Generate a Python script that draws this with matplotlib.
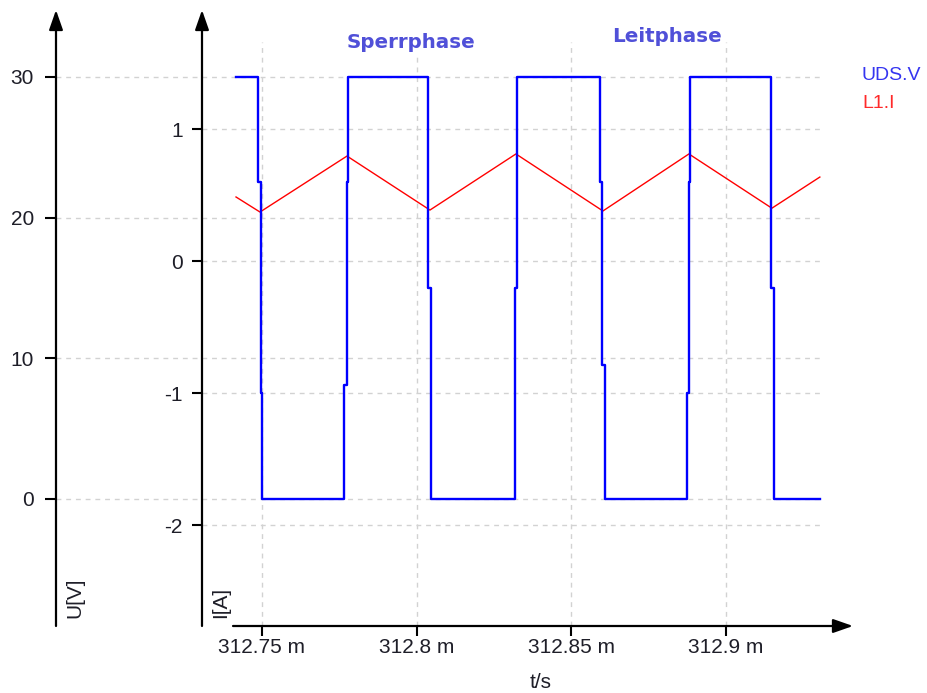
import matplotlib
matplotlib.use("Agg")
import matplotlib.pyplot as plt
from matplotlib.ticker import FixedLocator, FuncFormatter
from matplotlib.transforms import blended_transform_factory

# ---- data (time in ms) ----
# UDS.V : switching node voltage, sampled points (drawn as held steps)
t_uds = [312.74160, 312.74871, 312.74968, 312.75000,
         312.77651, 312.77748, 312.77780,
         312.80366, 312.80463,
         312.83179, 312.83243,
         312.85927, 312.85991, 312.86088,
         312.88739, 312.88804, 312.88836,
         312.91454, 312.91551, 312.93038]
u_uds = [30.0, 22.5, 7.5, 0.0,
         8.1, 22.5, 30.0,
         15.0, 0.0,
         15.0, 30.0,
         22.5, 9.5, 0.0,
         7.5, 22.5, 30.0,
         15.0, 0.0, 0.0]

# L1.I : inductor current (triangle ripple)
t_il = [312.74160, 312.74935, 312.77748, 312.80431, 312.83211,
        312.86024, 312.88804, 312.91487, 312.93038]
i_l = [0.485, 0.371, 0.795, 0.386, 0.811, 0.379, 0.811, 0.400, 0.636]

x_ticks = [312.75, 312.80, 312.85, 312.90]
u_ticks = [0, 10, 20, 30]
i_ticks = [-2, -1, 0, 1]

series_names = ["UDS.V", "L1.I"]
series_colors = ["#0000ff", "#ff0000"]
phase_labels = ["Sperrphase", "Leitphase"]

# ---- figure layout (pixel based) ----
W, H = 928, 693
fig = plt.figure(figsize=(W / 100, H / 100), dpi=100)
fig.patch.set_facecolor("white")

AX_L, AX_R, AX_T, AX_B = 202, 853, 10, 626
ax = fig.add_axes([AX_L / W, 1 - AX_B / H, (AX_R - AX_L) / W, (AX_B - AX_T) / H])
ax.set_xlim(312.7306, 312.9411)
ax.set_ylim(-2.765, 1.9015)
ax.patch.set_visible(False)

ax2 = ax.twinx()
ax2.set_ylim(-9.03, 34.76)

def fx(px):
    return (px - AX_L) / (AX_R - AX_L)

def fy(py):
    return (AX_B - py) / (AX_B - AX_T)

u_axis_x = fx(56)
grid_end = fx(820)
x_axis_start = fx(233)

FONT = "Liberation Sans"
TEXT_C = "#1e1e28"
FS = 15

for a in (ax, ax2):
    for s in a.spines.values():
        s.set_visible(False)

# ---- ticks ----
ax.xaxis.set_major_locator(FixedLocator(x_ticks))
ax.xaxis.set_major_formatter(FuncFormatter(lambda v, p: f"{v:g} m"))
ax.yaxis.set_major_locator(FixedLocator(i_ticks))
ax.yaxis.set_major_formatter(FuncFormatter(lambda v, p: f"{v:g}"))
ax.tick_params(axis="x", direction="out", length=7.5, width=1.5, pad=1,
               labelsize=FS, labelcolor=TEXT_C)
ax.tick_params(axis="y", direction="out", length=7, width=1.5, pad=7,
               labelsize=FS, labelcolor=TEXT_C, left=True, right=False)

ax2.yaxis.tick_left()
ax2.spines["left"].set_position(("axes", u_axis_x))
ax2.yaxis.set_major_locator(FixedLocator(u_ticks))
ax2.yaxis.set_major_formatter(FuncFormatter(lambda v, p: f"{v:g}"))
ax2.tick_params(axis="y", direction="out", length=8, width=1.5, pad=8,
                labelsize=FS, labelcolor=TEXT_C, left=True, right=False,
                labelleft=True, labelright=False)

for lab in ax.get_xticklabels() + ax.get_yticklabels() + ax2.get_yticklabels():
    lab.set_fontfamily(FONT)

# ---- dashed grid ----
grid_kw = dict(colors="#d2d2d2", linestyles=(0, (3.5, 3.5)), linewidths=1.0, zorder=0)
ax.vlines(x_ticks, 0, fy(42), transform=ax.get_xaxis_transform(), clip_on=False, **grid_kw)
ax.hlines(i_ticks, 0, grid_end, transform=ax.get_yaxis_transform(), clip_on=False, **grid_kw)
u_tr = blended_transform_factory(ax.transAxes, ax2.transData)
ax.hlines(u_ticks, u_axis_x, grid_end, transform=u_tr, clip_on=False, **grid_kw)

# ---- axis lines with arrow heads ----
arrow_kw = dict(arrowstyle="-|>,head_length=1.2,head_width=0.42", color="black",
                lw=1.6, shrinkA=0, shrinkB=0)
ax.annotate("", xy=(1, 0), xytext=(x_axis_start, 0), xycoords="axes fraction",
            arrowprops=arrow_kw, annotation_clip=False)
ax.annotate("", xy=(0, 1), xytext=(0, 0), xycoords="axes fraction",
            arrowprops=arrow_kw, annotation_clip=False)
ax.annotate("", xy=(u_axis_x, 1), xytext=(u_axis_x, 0), xycoords="axes fraction",
            arrowprops=arrow_kw, annotation_clip=False)

# ---- curves ----
ax.plot(t_il, i_l, color=series_colors[1], lw=1.0, zorder=3)
ax2.plot(t_uds, u_uds, color=series_colors[0], lw=1.7, drawstyle="steps-post", zorder=3)

# ---- labels ----
def fig_xy(px, py):
    return px / W, 1 - py / H

fig.text(*fig_xy(75, 618), "U[V]", rotation=90, ha="center", va="bottom",
         fontsize=FS, family=FONT, color=TEXT_C)
fig.text(*fig_xy(221, 618), "I[A]", rotation=90, ha="center", va="bottom",
         fontsize=FS, family=FONT, color=TEXT_C)
fig.text(*fig_xy(541, 682), "t/s", ha="center", va="center",
         fontsize=FS, family=FONT, color=TEXT_C)

# legend entries
fig.text(*fig_xy(862, 75), series_names[0], ha="left", va="center",
         fontsize=14, family=FONT, color="#3535f0")
fig.text(*fig_xy(862, 103), series_names[1], ha="left", va="center",
         fontsize=14, family=FONT, color="#ff2a2a")

# phase annotations
phase_kw = dict(ha="center", va="center", fontsize=14.3, fontweight="bold",
                family="DejaVu Sans", color="#5050d8",
                bbox=dict(facecolor="white", edgecolor="none", pad=1))
fig.text(*fig_xy(411, 42), phase_labels[0], **phase_kw)
fig.text(*fig_xy(667, 37), phase_labels[1], **phase_kw)

fig.savefig("out.png", dpi=100)
